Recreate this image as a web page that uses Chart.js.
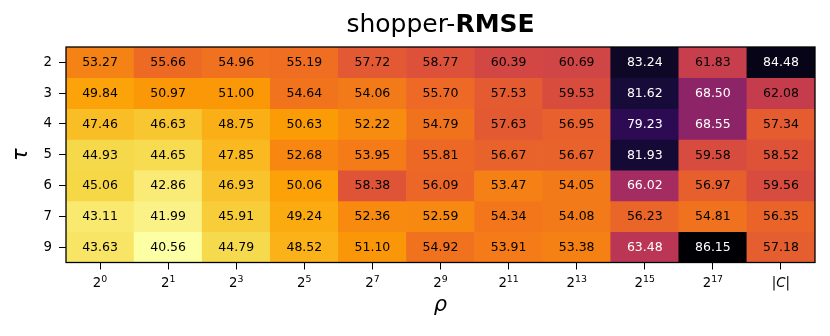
<!DOCTYPE html>
<html>
<head>
<meta charset="utf-8">
<script src="https://cdn.jsdelivr.net/npm/chart.js@4.4.0/dist/chart.umd.min.js"></script>
<style>
  html, body { margin: 0; padding: 0; background: #fff; }
  #wrap { width: 830px; height: 336px; }
</style>
</head>
<body>
<div id="wrap"><canvas id="heat" width="830" height="336"></canvas></div>
<script>
// data
const rhoTicks = ["2^0", "2^1", "2^3", "2^5", "2^7", "2^9", "2^11", "2^13", "2^15", "2^17", "|C|"];
const tauTicks = ["2", "3", "4", "5", "6", "7", "9"];

const rmseTau2 = [53.27, 55.66, 54.96, 55.19, 57.72, 58.77, 60.39, 60.69, 83.24, 61.83, 84.48];
const rmseTau3 = [49.84, 50.97, 51.00, 54.64, 54.06, 55.70, 57.53, 59.53, 81.62, 68.50, 62.08];
const rmseTau4 = [47.46, 46.63, 48.75, 50.63, 52.22, 54.79, 57.63, 56.95, 79.23, 68.55, 57.34];
const rmseTau5 = [44.93, 44.65, 47.85, 52.68, 53.95, 55.81, 56.67, 56.67, 81.93, 59.58, 58.52];
const rmseTau6 = [45.06, 42.86, 46.93, 50.06, 58.38, 56.09, 53.47, 54.05, 66.02, 56.97, 59.56];
const rmseTau7 = [43.11, 41.99, 45.91, 49.24, 52.36, 52.59, 54.34, 54.08, 56.23, 54.81, 56.35];
const rmseTau9 = [43.63, 40.56, 44.79, 48.52, 51.10, 54.92, 53.91, 53.38, 63.48, 86.15, 57.18];

const rows = [rmseTau2, rmseTau3, rmseTau4, rmseTau5, rmseTau6, rmseTau7, rmseTau9];

const FONT = '"DejaVu Sans", sans-serif';

// inferno stops (matplotlib)
const inferno = [
  [0.000, "#000004"], [0.100, "#160b39"], [0.111, "#1b0c41"], [0.200, "#420a68"],
  [0.222, "#4a0c6b"], [0.300, "#6a176e"], [0.333, "#781c6d"], [0.400, "#932667"],
  [0.444, "#a52c60"], [0.500, "#bc3754"], [0.556, "#cf4446"], [0.600, "#dd513a"],
  [0.667, "#ed6925"], [0.700, "#f37819"], [0.778, "#fb9b06"], [0.800, "#fca50a"],
  [0.889, "#f7d13d"], [0.900, "#f6d746"], [1.000, "#fcffa4"]
];

function hex2rgb(h) {
  return [1, 3, 5].map(i => parseInt(h.substr(i, 2), 16));
}

function infernoAt(t) {
  t = Math.max(0, Math.min(1, t));
  for (let i = 1; i < inferno.length; i++) {
    if (t <= inferno[i][0]) {
      const [t0, c0] = inferno[i - 1];
      const [t1, c1] = inferno[i];
      const f = (t - t0) / (t1 - t0);
      const a = hex2rgb(c0), b = hex2rgb(c1);
      const c = a.map((v, k) => Math.round(v + (b[k] - v) * f));
      return `rgb(${c[0]},${c[1]},${c[2]})`;
    }
  }
  return inferno[inferno.length - 1][1];
}

const allVals = rows.flat();
const vmin = Math.min(...allVals);
const vmax = Math.max(...allVals);
const vmid = (vmin + vmax) / 2;

// reversed colormap: low = pale yellow, high = black
const cellColor = v => infernoAt(1 - (v - vmin) / (vmax - vmin));

const datasets = rows.map((vals, r) => ({
  data: vals.map(() => [r, r + 1]),
  backgroundColor: vals.map(cellColor),
  grouped: false,
  barPercentage: 1,
  categoryPercentage: 1,
  borderWidth: 0,
}));

// draw texts, frame and custom tick labels
const decor = {
  id: "decor",
  afterDraw(chart) {
    const { ctx, chartArea: a, scales: { x, y } } = chart;
    ctx.save();

    // cell annotations
    ctx.font = `12.5px ${FONT}`;
    ctx.textAlign = "center";
    ctx.textBaseline = "middle";
    rows.forEach((vals, r) => {
      const cy = y.getPixelForValue(r + 0.5);
      vals.forEach((v, c) => {
        ctx.fillStyle = v > vmid ? "#fff" : "#000";
        ctx.fillText(v.toFixed(2), x.getPixelForValue(c), cy + 0.5);
      });
    });

    // frame
    ctx.strokeStyle = "#000";
    ctx.lineWidth = 1.3;
    ctx.strokeRect(a.left, a.top, a.right - a.left, a.bottom - a.top);

    // x tick labels with superscripts
    ctx.fillStyle = "#000";
    ctx.textAlign = "left";
    ctx.textBaseline = "alphabetic";
    const base = `13.3px ${FONT}`;
    const sup = `9.4px ${FONT}`;
    const ital = `italic 13.3px ${FONT}`;
    rhoTicks.forEach((lab, i) => {
      const cx = x.getPixelForValue(i);
      let parts;
      if (lab.includes("^")) {
        const [b, e] = lab.split("^");
        parts = [[b, base, 0], [e, sup, -5.5]];
      } else {
        parts = lab.split("").map(ch => [ch, /[A-Za-z]/.test(ch) ? ital : base, 0]);
      }
      const widths = parts.map(([t, f]) => { ctx.font = f; return ctx.measureText(t).width; });
      let px = cx - widths.reduce((s, w) => s + w, 0) / 2;
      parts.forEach(([t, f, dy], k) => {
        ctx.font = f;
        ctx.fillText(t, px, 287 + dy);
        px += widths[k];
      });
    });

    // title
    const t1 = "shopper-", t2 = "RMSE";
    ctx.font = `25px ${FONT}`;
    const w1 = ctx.measureText(t1).width;
    ctx.font = `bold 25px ${FONT}`;
    const w2 = ctx.measureText(t2).width;
    const tx = (a.left + a.right) / 2 - (w1 + w2) / 2;
    ctx.font = `25px ${FONT}`;
    ctx.fillText(t1, tx, 32);
    ctx.font = `bold 25px ${FONT}`;
    ctx.fillText(t2, tx + w1, 32);

    // axis labels
    ctx.font = `italic 21px ${FONT}`;
    ctx.textAlign = "center";
    ctx.fillText("\u03c1", (a.left + a.right) / 2, 311);
    ctx.save();
    ctx.translate(27, (a.top + a.bottom) / 2);
    ctx.rotate(-Math.PI / 2);
    ctx.fillText("\u03c4", 0, 0);
    ctx.restore();

    ctx.restore();
  },
};

new Chart(document.getElementById("heat"), {
  type: "bar",
  data: { labels: rhoTicks, datasets },
  options: {
    responsive: false,
    animation: false,
    devicePixelRatio: 1,
    layout: { padding: { top: 47, right: 15, left: 0, bottom: 0 } },
    plugins: { legend: { display: false }, tooltip: { enabled: false }, title: { display: false } },
    scales: {
      x: {
        type: "category",
        offset: true,
        grid: { drawOnChartArea: false, drawTicks: true, tickLength: 7, color: "#000", lineWidth: 1, offset: false },
        border: { display: false },
        ticks: { display: false },
        afterFit: s => { s.height = 336 - 262.5; },
      },
      y: {
        type: "linear",
        min: 0,
        max: 7,
        reverse: true,
        afterBuildTicks: s => { s.ticks = tauTicks.map((_, i) => ({ value: i + 0.5 })); },
        ticks: {
          callback: (v, i) => tauTicks[i],
          font: { family: FONT, size: 13.3 },
          color: "#000",
          padding: 7,
        },
        grid: { drawOnChartArea: false, drawTicks: true, tickLength: 7, color: "#000", lineWidth: 1 },
        border: { display: false },
        afterFit: s => { s.width = 66; },
      },
    },
  },
  plugins: [decor],
});
</script>
</body>
</html>
